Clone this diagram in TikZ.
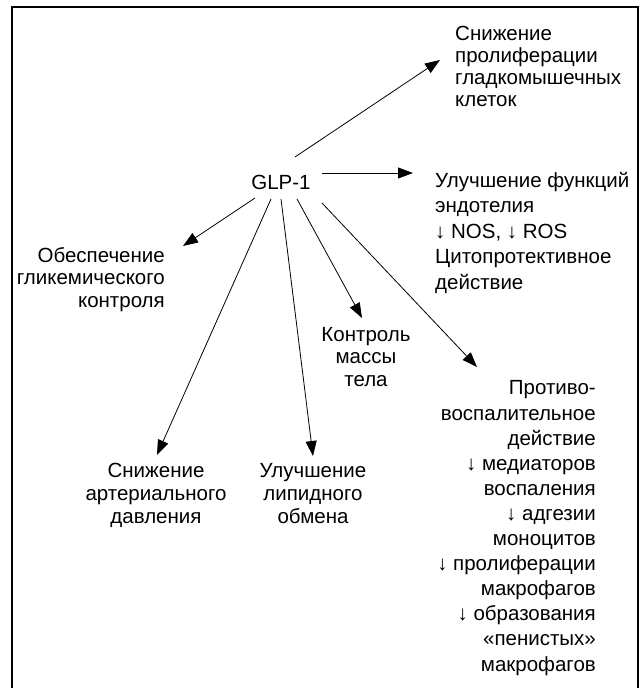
\documentclass[tikz,border=0pt]{standalone}
\usepackage{fontspec}
\setmainfont{Liberation Sans}
\usetikzlibrary{arrows.meta}
\newcommand{\dn}{↓}
\tikzset{
  lbl/.style={inner sep=0pt, font=\fontsize{20.5}{23}\selectfont},
  arr/.style={-{Triangle[length=15pt,width=11pt]}, line width=0.8pt},
}
\begin{document}
\begin{tikzpicture}[x=1pt,y=-1pt]
\useasboundingbox (0,0) rectangle (642,688);
\draw[line width=1.3pt] (12,700) -- (12,7) -- (638,7) -- (638,700);
\node[lbl] (glp) at (281,182) {GLP-1};
\node[lbl, anchor=base west, align=left, font=\fontsize{20.5}{22}\selectfont] (smc) at (455,106)
  {Снижение\\пролиферации\\гладкомышечных\\клеток};
\node[lbl, anchor=base west, align=left, font=\fontsize{20.5}{25.5}\selectfont] (endo) at (435,289)
  {Улучшение функций\\эндотелия\\\dn{} NOS, \dn{} ROS\\Цитопротективное\\действие};
\node[lbl, anchor=base east, align=right, font=\fontsize{20.5}{22.5}\selectfont] (glyc) at (165,307)
  {Обеспечение\\гликемического\\контроля};
\node[lbl, anchor=base, align=center] (bp) at (156,523)
  {Снижение\\артериального\\давления};
\node[lbl, anchor=base, align=center] (lip) at (313,523)
  {Улучшение\\липидного\\обмена};
\node[lbl, anchor=base, align=center, font=\fontsize{20.5}{22.5}\selectfont] (mass) at (366,386)
  {Контроль\\массы\\тела};
\node[lbl, anchor=base east, align=right, font=\fontsize{20.5}{25.1}\selectfont] (infl) at (596,671)
  {Противо-\\воспалительное\\действие\\\dn{} медиаторов\\воспаления\\\dn{} адгезии\\моноцитов\\\dn{} пролиферации\\макрофагов\\\dn{} образования\\«пенистых»\\макрофагов};
\coordinate (s1) at (295,157); \coordinate (t1) at (440,60);
\coordinate (s2) at (322,173); \coordinate (t2) at (413,173);
\coordinate (s3) at (255,198); \coordinate (t3) at (183,246);
\coordinate (s4) at (271,199); \coordinate (t4) at (157,455);
\coordinate (s5) at (281,199); \coordinate (t5) at (313,456);
\coordinate (s6) at (297,199); \coordinate (t6) at (362,318);
\coordinate (s7) at (322,203); \coordinate (t7) at (477,367);
\draw[arr] (s1) -- (t1);
\draw[arr] (s2) -- (t2);
\draw[arr] (s3) -- (t3);
\draw[arr] (s4) -- (t4);
\draw[arr] (s5) -- (t5);
\draw[arr] (s6) -- (t6);
\draw[arr] (s7) -- (t7);
\end{tikzpicture}
\end{document}
